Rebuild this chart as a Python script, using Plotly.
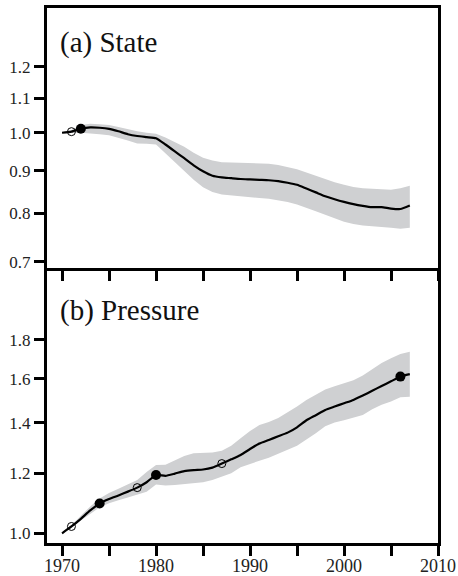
import plotly.graph_objects as go
from plotly.subplots import make_subplots

years = list(range(1970, 2008))

state = [1.000, 1.003, 1.011, 1.015, 1.014, 1.011, 1.004, 0.996, 0.991, 0.988,
         0.985, 0.968, 0.950, 0.932, 0.914, 0.899, 0.888, 0.884, 0.882, 0.880,
         0.879, 0.878, 0.877, 0.875, 0.871, 0.866, 0.857, 0.848, 0.839, 0.832,
         0.826, 0.821, 0.817, 0.814, 0.814, 0.811, 0.810, 0.818]
state_upper = [1.002, 1.008, 1.022, 1.025, 1.024, 1.022, 1.016, 1.009, 1.004, 1.000,
               0.997, 0.987, 0.974, 0.962, 0.946, 0.933, 0.926, 0.922, 0.921, 0.920,
               0.920, 0.919, 0.918, 0.915, 0.910, 0.904, 0.896, 0.888, 0.879, 0.872,
               0.866, 0.861, 0.858, 0.857, 0.855, 0.854, 0.858, 0.864]
state_lower = [0.998, 0.999, 1.000, 0.999, 0.996, 0.993, 0.987, 0.979, 0.971, 0.970,
               0.968, 0.946, 0.922, 0.900, 0.878, 0.860, 0.849, 0.843, 0.840, 0.838,
               0.837, 0.835, 0.833, 0.830, 0.826, 0.820, 0.813, 0.805, 0.797, 0.789,
               0.782, 0.777, 0.774, 0.772, 0.770, 0.769, 0.767, 0.769]

pressure = [1.000, 1.021, 1.045, 1.072, 1.095, 1.110, 1.122, 1.135, 1.149, 1.168,
            1.194, 1.191, 1.199, 1.208, 1.212, 1.214, 1.221, 1.236, 1.252, 1.269,
            1.292, 1.314, 1.328, 1.343, 1.358, 1.380, 1.410, 1.432, 1.455, 1.470,
            1.485, 1.500, 1.520, 1.542, 1.565, 1.587, 1.610, 1.622]
pressure_upper = [1.002, 1.025, 1.055, 1.085, 1.112, 1.130, 1.145, 1.160, 1.176, 1.205,
                  1.231, 1.232, 1.250, 1.265, 1.275, 1.276, 1.278, 1.285, 1.305, 1.335,
                  1.365, 1.390, 1.403, 1.420, 1.443, 1.470, 1.500, 1.522, 1.548, 1.563,
                  1.578, 1.592, 1.615, 1.648, 1.678, 1.703, 1.725, 1.737]
pressure_lower = [0.998, 1.016, 1.040, 1.062, 1.082, 1.096, 1.106, 1.115, 1.124, 1.135,
                  1.160, 1.156, 1.158, 1.160, 1.164, 1.168, 1.176, 1.188, 1.200, 1.222,
                  1.235, 1.247, 1.258, 1.272, 1.289, 1.305, 1.328, 1.355, 1.385, 1.400,
                  1.410, 1.420, 1.433, 1.458, 1.478, 1.493, 1.512, 1.515]

state_open_years = [1971]
state_filled_years = [1972]
pressure_open_years = [1971, 1978, 1987]
pressure_filled_years = [1974, 1980, 2006]

state_ticks = [0.7, 0.8, 0.9, 1.0, 1.1, 1.2]
state_ticklabels = ["0.7", "0.8", "0.9", "1.0", "1.1", "1.2"]
pressure_ticks = [1.0, 1.2, 1.4, 1.6, 1.8]
pressure_ticklabels = ["1.0", "1.2", "1.4", "1.6", "1.8"]
x_ticks = [1970, 1975, 1980, 1985, 1990, 1995, 2000, 2005, 2010]
x_ticklabels = ["1970", "", "1980", "", "1990", "", "2000", "", "2010"]
panel_titles = ["(a) State", "(b) Pressure"]

BAND = "#cfd0d2"
FONT = "Liberation Serif, 'DejaVu Serif', serif"

fig = make_subplots(rows=2, cols=1, shared_xaxes=False, vertical_spacing=0)


def add_panel(row, vals, up, lo, open_y, filled_y):
    fig.add_trace(go.Scatter(x=years + years[::-1], y=up + lo[::-1], fill="toself",
                             fillcolor=BAND, line=dict(width=0), mode="lines",
                             hoverinfo="skip", showlegend=False), row=row, col=1)
    fig.add_trace(go.Scatter(x=years, y=vals, mode="lines",
                             line=dict(color="black", width=2.2, shape="spline", smoothing=0.5),
                             showlegend=False), row=row, col=1)
    fig.add_trace(go.Scatter(x=open_y, y=[vals[years.index(y)] for y in open_y], mode="markers",
                             marker=dict(symbol="circle-open", size=8, color="black",
                                         line=dict(width=1)),
                             showlegend=False), row=row, col=1)
    fig.add_trace(go.Scatter(x=filled_y, y=[vals[years.index(y)] for y in filled_y], mode="markers",
                             marker=dict(symbol="circle", size=10, color="black"),
                             showlegend=False), row=row, col=1)


add_panel(1, state, state_upper, state_lower, state_open_years, state_filled_years)
add_panel(2, pressure, pressure_upper, pressure_lower, pressure_open_years, pressure_filled_years)

xcommon = dict(range=[1968.4, 2010], tickmode="array", tickvals=x_ticks, domain=[0, 1],
               ticks="outside", ticklen=10, tickwidth=2.5, tickcolor="black",
               showline=True, linewidth=3, linecolor="black", automargin=False,
               showgrid=False, zeroline=False,
               tickfont=dict(family=FONT, size=18, color="#222"))
fig.update_xaxes(**xcommon, ticktext=[""] * len(x_ticks), mirror=True, row=1, col=1)
fig.update_xaxes(**xcommon, ticktext=x_ticklabels, mirror=False, ticklabelstandoff=-6,
                 row=2, col=1)

ycommon = dict(type="log", ticks="outside", ticklen=10, tickwidth=2.5, tickcolor="black",
               showline=True, linewidth=3, linecolor="black", mirror=True, automargin=False,
               showgrid=False, zeroline=False, tickmode="array",
               tickfont=dict(family=FONT, size=17, color="#222"))
fig.update_yaxes(**ycommon, range=[-0.1624, 0.1498], tickvals=state_ticks, domain=[0.514, 1],
                 ticktext=state_ticklabels, row=1, col=1)
fig.update_yaxes(**ycommon, range=[-0.0128, 0.3502], tickvals=pressure_ticks, domain=[0, 0.514],
                 ticktext=pressure_ticklabels, row=2, col=1)

fig.add_annotation(text=panel_titles[0], xref="paper", yref="paper", x=0.028, y=0.9364,
                   xanchor="left", yanchor="middle", showarrow=False,
                   font=dict(family=FONT, size=29, color="#111"))
fig.add_annotation(text=panel_titles[1], xref="paper", yref="paper", x=0.028, y=0.4355,
                   xanchor="left", yanchor="middle", showarrow=False,
                   font=dict(family=FONT, size=29, color="#111"))

fig.update_layout(width=458, height=576, margin=dict(l=47, r=20, t=8, b=33),
                  paper_bgcolor="white", plot_bgcolor="white", showlegend=False)

fig.write_html("out.html")
